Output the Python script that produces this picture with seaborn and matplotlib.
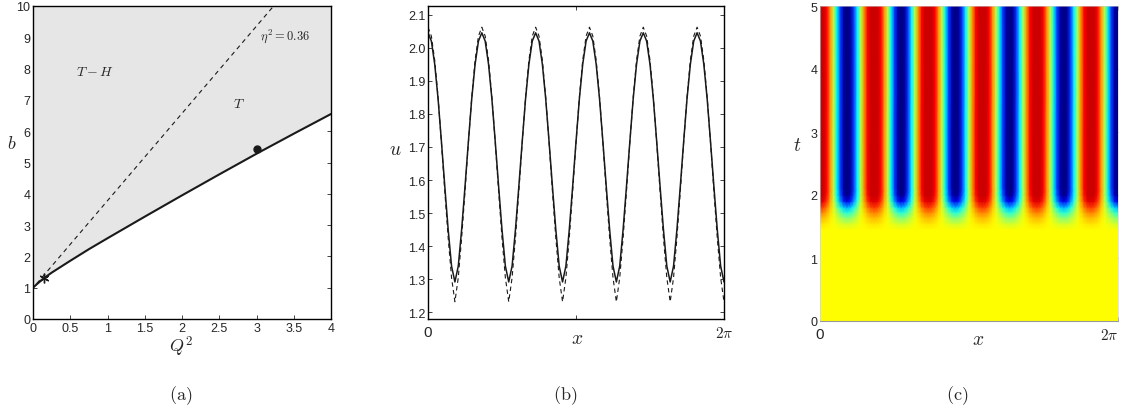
import numpy as np
import matplotlib
matplotlib.use('Agg')
import matplotlib.pyplot as plt
import seaborn as sns
from matplotlib.colors import LinearSegmentedColormap

# ---------------- data ----------------
# (a) stability boundary b(Q^2) and the eta^2 = 0.36 line
q2_curve = [0.00, 0.05, 0.10, 0.15, 0.25, 0.50, 0.75, 1.00, 1.50, 2.00, 2.50, 3.00, 3.50, 4.00]
b_curve = [1.00, 1.11, 1.21, 1.31, 1.48, 1.86, 2.23, 2.58, 3.27, 3.95, 4.62, 5.28, 5.92, 6.55]
q2_eta = [0.05, 3.23]
b_eta = [1.13, 10.0]
star_q2, star_b = [0.15], [1.31]
dot_q2, dot_b = [3.0], [5.42]

# (b) u(x) profiles, solid and dashed
x_vals = [
    0.0000, 0.0714, 0.1428, 0.2142, 0.2856, 0.3570, 0.4284, 0.4998,
    0.5712, 0.6426, 0.7140, 0.7854, 0.8568, 0.9282, 0.9996, 1.0710,
    1.1424, 1.2138, 1.2852, 1.3566, 1.4280, 1.4994, 1.5708, 1.6422,
    1.7136, 1.7850, 1.8564, 1.9278, 1.9992, 2.0706, 2.1420, 2.2134,
    2.2848, 2.3562, 2.4276, 2.4990, 2.5704, 2.6418, 2.7132, 2.7846,
    2.8560, 2.9274, 2.9988, 3.0702, 3.1416, 3.2130, 3.2844, 3.3558,
    3.4272, 3.4986, 3.5700, 3.6414, 3.7128, 3.7842, 3.8556, 3.9270,
    3.9984, 4.0698, 4.1412, 4.2126, 4.2840, 4.3554, 4.4268, 4.4982,
    4.5696, 4.6410, 4.7124, 4.7838, 4.8552, 4.9266, 4.9980, 5.0694,
    5.1408, 5.2122, 5.2836, 5.3550, 5.4264, 5.4978, 5.5692, 5.6406,
    5.7120, 5.7834, 5.8548, 5.9262, 5.9976, 6.0690, 6.1404, 6.2118,
    6.2832,
]
u_solid = [
    2.045, 2.020, 1.950, 1.845, 1.715, 1.580, 1.450, 1.340,
    1.292, 1.340, 1.450, 1.580, 1.715, 1.845, 1.950, 2.020,
    2.045, 2.020, 1.950, 1.845, 1.715, 1.580, 1.450, 1.340,
    1.292, 1.340, 1.450, 1.580, 1.715, 1.845, 1.950, 2.020,
    2.045, 2.020, 1.950, 1.845, 1.715, 1.580, 1.450, 1.340,
    1.292, 1.340, 1.450, 1.580, 1.715, 1.845, 1.950, 2.020,
    2.045, 2.020, 1.950, 1.845, 1.715, 1.580, 1.450, 1.340,
    1.292, 1.340, 1.450, 1.580, 1.715, 1.845, 1.950, 2.020,
    2.045, 2.020, 1.950, 1.845, 1.715, 1.580, 1.450, 1.340,
    1.292, 1.340, 1.450, 1.580, 1.715, 1.845, 1.950, 2.020,
    2.045, 2.020, 1.950, 1.845, 1.715, 1.580, 1.450, 1.340,
    1.292,
]
u_dashed = [
    2.062, 2.035, 1.962, 1.850, 1.712, 1.565, 1.425, 1.305,
    1.232, 1.305, 1.425, 1.565, 1.712, 1.850, 1.962, 2.035,
    2.062, 2.035, 1.962, 1.850, 1.712, 1.565, 1.425, 1.305,
    1.232, 1.305, 1.425, 1.565, 1.712, 1.850, 1.962, 2.035,
    2.062, 2.035, 1.962, 1.850, 1.712, 1.565, 1.425, 1.305,
    1.232, 1.305, 1.425, 1.565, 1.712, 1.850, 1.962, 2.035,
    2.062, 2.035, 1.962, 1.850, 1.712, 1.565, 1.425, 1.305,
    1.232, 1.305, 1.425, 1.565, 1.712, 1.850, 1.962, 2.035,
    2.062, 2.035, 1.962, 1.850, 1.712, 1.565, 1.425, 1.305,
    1.232, 1.305, 1.425, 1.565, 1.712, 1.850, 1.962, 2.035,
    2.062, 2.035, 1.962, 1.850, 1.712, 1.565, 1.425, 1.305,
    1.232,
]

# (c) space-time field: uniform state below t~1.5, stripes after t~2
t_levels = [0.00, 1.45, 1.55, 1.65, 1.72, 1.80, 1.90, 2.00, 2.10, 5.05]
pattern_amp = [0.00, 0.00, 0.08, 0.20, 0.33, 0.50, 0.80, 0.95, 1.00, 1.00]
u_initial = 1.770
u_color_min, u_color_max = 1.314, 2.007

# ---------------- style ----------------
sns.set_theme(style='ticks')
plt.rcParams['font.family'] = ['Liberation Sans', 'DejaVu Sans']
plt.rcParams['mathtext.fontset'] = 'cm'
plt.rcParams['xtick.direction'] = 'in'
plt.rcParams['ytick.direction'] = 'in'
plt.rcParams['axes.linewidth'] = 1.0
plt.rcParams['axes.edgecolor'] = 'black'

# MATLAB-style jet, cut a little before its darkest red
top = 0.95
jet_stops = [(0.0, (0, 0, 0.5)), (0.125, (0, 0, 1)), (0.375, (0, 1, 1)),
             (0.625, (1, 1, 0)), (0.875, (1, 0, 0)), (top, (0.8, 0, 0))]
matlab_jet = LinearSegmentedColormap.from_list(
    'matlab_jet', [(p / top, c) for p, c in jet_stops], N=256)

W, H = 1121, 414
fig = plt.figure(figsize=(W / 100, H / 100), dpi=100)


def px_axes(left, top, right, bottom):
    return fig.add_axes([left / W, 1 - bottom / H, (right - left) / W, (bottom - top) / H])


tick_fs = 9
lab_fs = 13

# ---------------- (a) ----------------
ax = px_axes(33, 7, 331, 320)
ax.fill_between(q2_curve, b_curve, 10, color='#e6e6e6', lw=0)
sns.lineplot(x=q2_curve, y=b_curve, ax=ax, color='k', lw=1.5, estimator=None, sort=False)
sns.lineplot(x=q2_eta, y=b_eta, ax=ax, color='k', lw=0.8, estimator=None, sort=False,
             linestyle=(0, (4, 3.5)))
ax.plot(star_q2, star_b, marker=(6, 2, 0), ms=7, mec='k', mew=1.0, ls='none')
ax.plot(dot_q2, dot_b, marker='o', ms=5, color='k', ls='none')
ax.text(0.83, 7.93, r'$T-H$', ha='center', va='center', fontsize=10)
ax.text(2.77, 6.89, r'$T$', ha='center', va='center', fontsize=10)
ax.text(3.38, 9.07, r'$\eta^2=0.36$', ha='center', va='center', fontsize=9)
ax.set_xlim(0, 4)
ax.set_ylim(0, 10)
ax.set_xticks(np.arange(0, 4.01, 0.5))
ax.set_xticklabels(['0', '0.5', '1', '1.5', '2', '2.5', '3', '3.5', '4'])
ax.set_yticks(range(0, 11))
ax.tick_params(labelsize=tick_fs, length=3, width=0.6, top=True, right=True, pad=2)
ax.set_xlabel(r'$Q^2$', fontsize=lab_fs)
ax.set_ylabel(r'$b$', fontsize=lab_fs, rotation=0, ha='center', va='center')
ax.xaxis.set_label_coords(0.497, -0.045)
ax.yaxis.set_label_coords(-0.07, 0.56)

# ---------------- (b) ----------------
ax = px_axes(428, 7, 724, 320)
sns.lineplot(x=x_vals, y=u_solid, ax=ax, color='k', lw=1.1, estimator=None, sort=False)
sns.lineplot(x=x_vals, y=u_dashed, ax=ax, color='k', lw=0.8, estimator=None, sort=False,
             linestyle=(0, (4, 3)))
ax.set_xlim(0, 2 * np.pi)
ax.set_ylim(1.18, 2.126)
ax.set_xticks([0, np.pi, 2 * np.pi])
ax.set_xticklabels(['0', '', r'$2\pi$'])
ax.set_yticks(np.arange(1.2, 2.11, 0.1))
ax.set_yticklabels(['%.1f' % v for v in np.arange(1.2, 2.11, 0.1)])
ax.tick_params(labelsize=tick_fs, length=3, width=0.6, top=True, right=True, pad=2)
ax.tick_params(axis='x', labelsize=11, pad=4)
ax.set_xlabel(r'$x$', fontsize=lab_fs + 1)
ax.set_ylabel(r'$u$', fontsize=lab_fs + 1, rotation=0, ha='center', va='center')
ax.xaxis.set_label_coords(0.504, -0.035)
ax.yaxis.set_label_coords(-0.11, 0.543)

# ---------------- (c) ----------------
ax = px_axes(820, 7, 1118, 322)
field = u_initial + np.outer(pattern_amp, np.array(u_solid) - u_initial)
ax.pcolormesh(x_vals, t_levels, field, shading='gouraud', cmap=matlab_jet,
              vmin=u_color_min, vmax=u_color_max, rasterized=True)
ax.set_xlim(0, 2 * np.pi)
ax.set_ylim(0, 5)
ax.set_xticks([0, 2 * np.pi])
ax.set_xticklabels(['0', r'$2\pi$'])
ax.get_xticklabels()[1].set_ha('right')
ax.set_yticks(range(0, 6))
ax.tick_params(labelsize=tick_fs, length=3, width=0.6, top=True, right=True, pad=2,
               color='#777777')
ax.tick_params(axis='x', labelsize=11, pad=4)
for name, s in ax.spines.items():
    s.set_color('#999999' if name == 'bottom' else '#d0d0d0')
    s.set_linewidth(0.8 if name == 'bottom' else 0.4)
ax.set_xlabel(r'$x$', fontsize=lab_fs + 1)
ax.set_ylabel(r'$t$', fontsize=lab_fs + 1, rotation=0, ha='center', va='center')
ax.xaxis.set_label_coords(0.53, -0.033)
ax.yaxis.set_label_coords(-0.077, 0.556)

# ---------------- captions ----------------
for label, xc in [('(a)', 181), ('(b)', 565), ('(c)', 957)]:
    fig.text(xc / W, 1 - 396 / H, r'$\mathrm{' + label + '}$', ha='center', va='center',
             fontsize=13)

fig.savefig('out.png', dpi=100)
